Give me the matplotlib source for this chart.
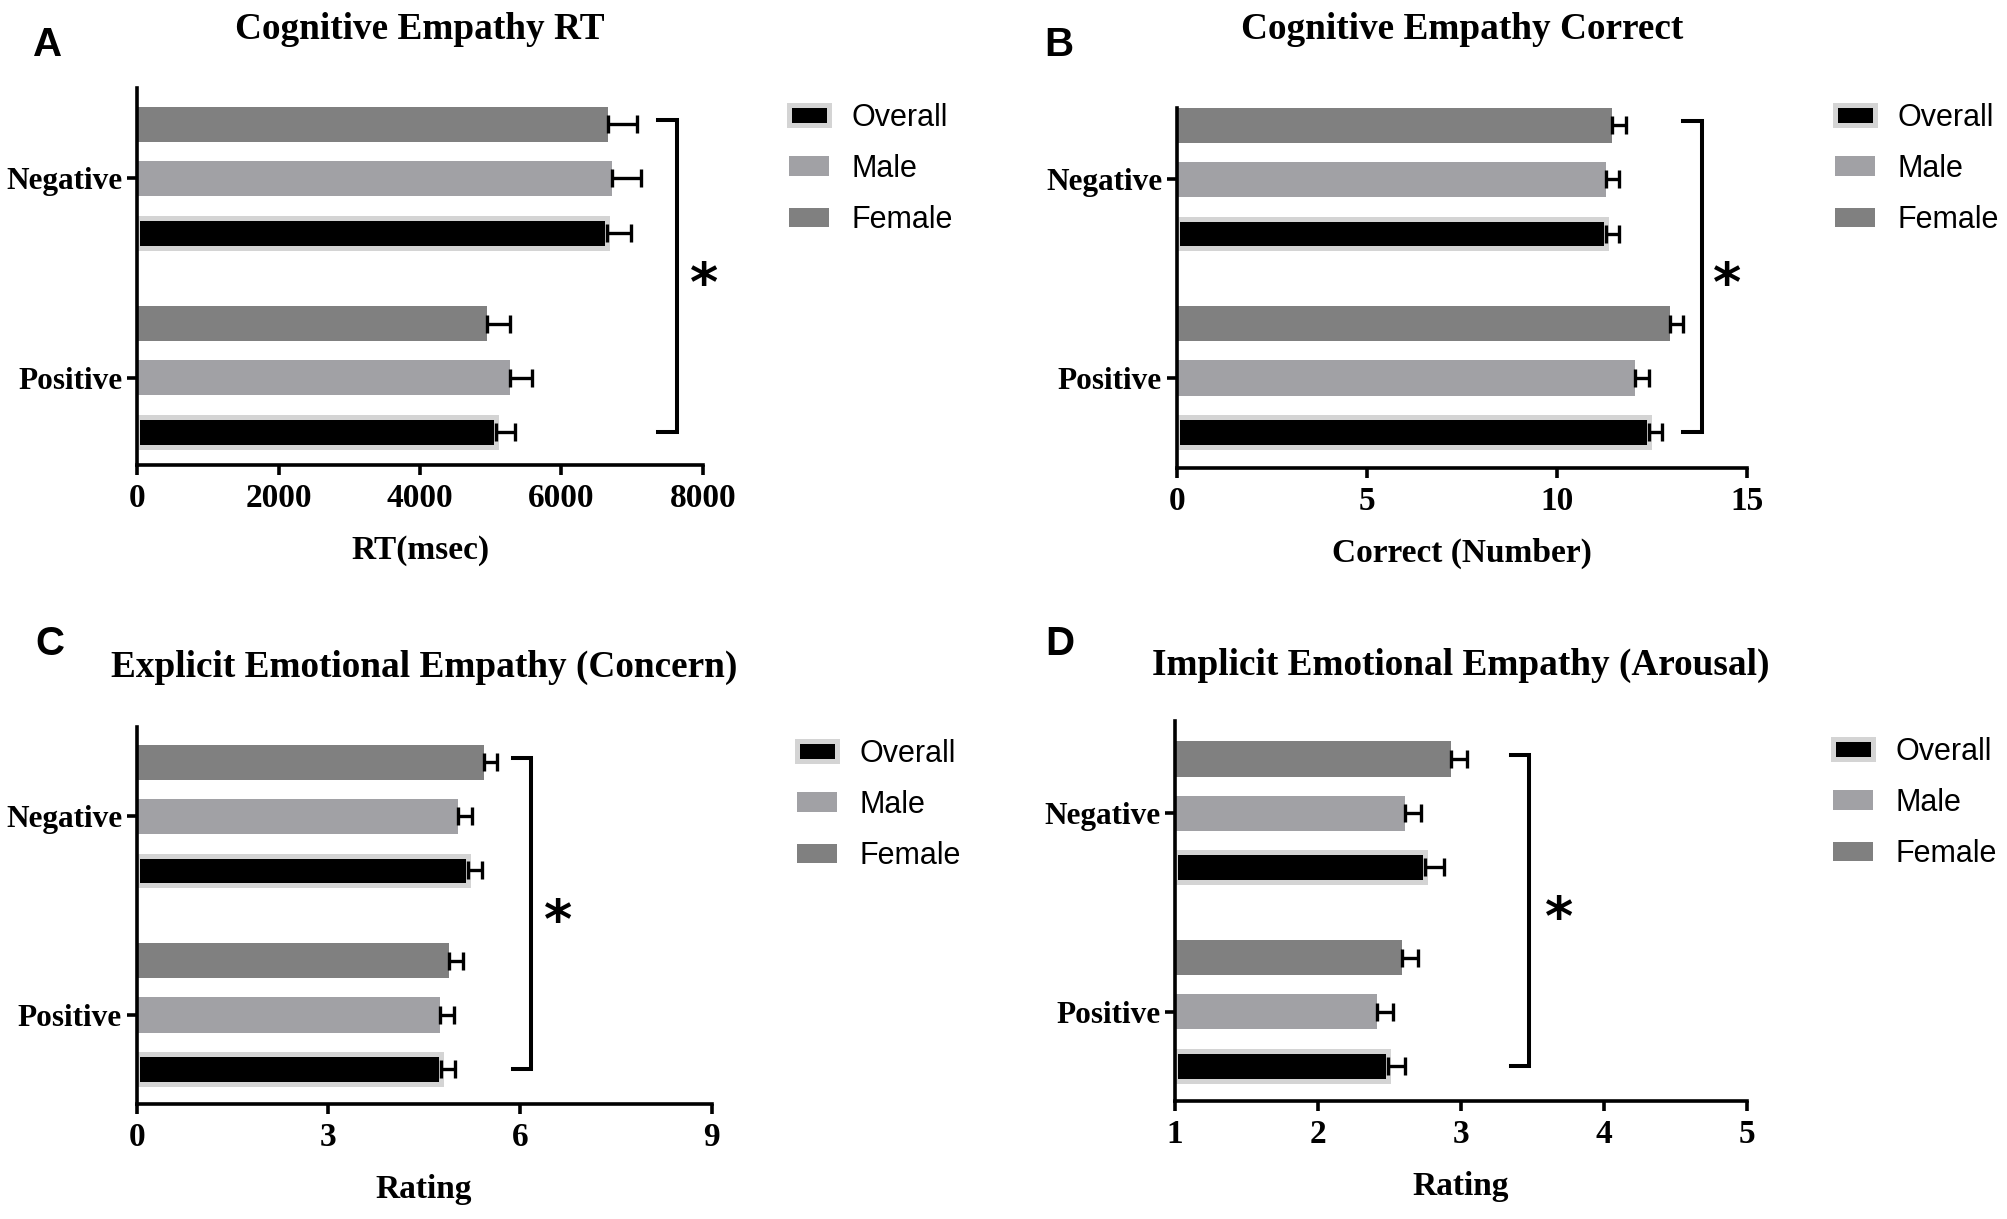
import numpy as np
import matplotlib
matplotlib.use("Agg")
import matplotlib.pyplot as plt

# ---------------- data ----------------
conditions = ["Negative", "Positive"]
groups = ["Overall", "Male", "Female"]

rt_overall = [6651, 5080]
rt_male = [6715, 5279]
rt_female = [6667, 4954]
rt_overall_se = [333, 262]
rt_male_se = [410, 307]
rt_female_se = [410, 316]
rt_ticks = [0, 2000, 4000, 6000, 8000]

correct_overall = [11.29, 12.42]
correct_male = [11.28, 12.06]
correct_female = [11.45, 12.96]
correct_overall_se = [0.35, 0.34]
correct_male_se = [0.36, 0.35]
correct_female_se = [0.35, 0.34]
correct_ticks = [0, 5, 10, 15]

concern_overall = [5.19, 4.76]
concern_male = [5.03, 4.75]
concern_female = [5.43, 4.89]
concern_overall_se = [0.21, 0.22]
concern_male_se = [0.22, 0.22]
concern_female_se = [0.21, 0.22]
concern_ticks = [0, 3, 6, 9]

arousal_overall = [2.75, 2.49]
arousal_male = [2.61, 2.415]
arousal_female = [2.93, 2.585]
arousal_overall_se = [0.13, 0.12]
arousal_male_se = [0.11, 0.11]
arousal_female_se = [0.11, 0.115]
arousal_ticks = [1, 2, 3, 4, 5]

titles = ["Cognitive Empathy RT", "Cognitive Empathy Correct",
          "Explicit Emotional Empathy (Concern)", "Implicit Emotional Empathy (Arousal)"]
xlabels = ["RT(msec)", "Correct (Number)", "Rating", "Rating"]
letters = ["A", "B", "C", "D"]
significance = "*"

# ---------------- style / layout ----------------
W, H = 2007, 1219
plt.rcParams["font.family"] = ["Liberation Serif", "DejaVu Serif"]
plt.rcParams["font.weight"] = "bold"

c_female = "#808080"
c_male = "#a1a1a5"
c_overall = "#000000"
c_overall_edge = "#d4d4d4"

fig = plt.figure(figsize=(W / 100, H / 100), dpi=100)

def frac_rect(l, t, r, b):
    return [l / W, 1 - b / H, (r - l) / W, (b - t) / H]

panels = [
    dict(rect=(137.3, 87.5, 702.7, 465.0), ylim=(-1.605, 5.345),
         ov=rt_overall, ma=rt_male, fe=rt_female,
         ov_se=rt_overall_se, ma_se=rt_male_se, fe_se=rt_female_se,
         ticks=rt_ticks, br=(7374, 7635), star=8020,
         title_y=39, letter=(33, 56), leg=(789, 115)),
    dict(rect=(1176.6, 108.0, 1747.3, 468.3), ylim=(-1.67, 4.99),
         ov=correct_overall, ma=correct_male, fe=correct_female,
         ov_se=correct_overall_se, ma_se=correct_male_se, fe_se=correct_female_se,
         ticks=correct_ticks, br=(13.30, 13.80), star=14.46,
         title_y=39, letter=(1044, 56), leg=(1835, 115)),
    dict(rect=(136.6, 726.5, 711.7, 1104.3), ylim=(-1.65, 5.33),
         ov=concern_overall, ma=concern_male, fe=concern_female,
         ov_se=concern_overall_se, ma_se=concern_male_se, fe_se=concern_female_se,
         ticks=concern_ticks, br=(5.89, 6.17), star=6.60,
         title_y=677, letter=(35, 655), leg=(797, 751)),
    dict(rect=(1175.0, 721.2, 1747.0, 1101.0), ylim=(-1.65, 5.37),
         ov=arousal_overall, ma=arousal_male, fe=arousal_female,
         ov_se=arousal_overall_se, ma_se=arousal_male_se, fe_se=arousal_female_se,
         ticks=arousal_ticks, br=(3.35, 3.476), star=3.685,
         title_y=675, letter=(1045, 655), leg=(1833, 749)),
]

centers = np.array([3.67, 0.0])  # Negative, Positive group centres
bar_h = 0.65
spine_lw = 2.6

for k, p in enumerate(panels):
    ax = fig.add_axes(frac_rect(*p["rect"]))
    base = p["ticks"][0]
    ov = np.array(p["ov"]); ma = np.array(p["ma"]); fe = np.array(p["fe"])
    y_fe = centers + 1.0
    y_ma = centers
    y_ov = centers - 1.0

    b_fe = ax.barh(y_fe, fe - base, left=base, height=bar_h, color=c_female,
                   linewidth=0, zorder=2)
    b_ma = ax.barh(y_ma, ma - base, left=base, height=bar_h, color=c_male,
                   linewidth=0, zorder=2)
    b_ov = ax.barh(y_ov, ov - base, left=base, height=0.55, color=c_overall,
                   edgecolor=c_overall_edge, linewidth=3.6, zorder=2)

    for vals, ys, se in [(fe, y_fe, p["fe_se"]), (ma, y_ma, p["ma_se"]), (ov, y_ov, p["ov_se"])]:
        ax.errorbar(vals, ys, xerr=[np.zeros(len(se)), np.array(se)], fmt="none",
                    ecolor="black", elinewidth=2.4, capsize=6.2, capthick=2.4, zorder=3)

    # significance bracket
    x0, x1 = p["br"]
    ytop, ybot = centers[0] + 1.08, centers[1] - 1.0
    ax.plot([x0, x1, x1, x0], [ytop, ytop, ybot, ybot], color="black", lw=2.9,
            solid_joinstyle="miter", clip_on=False, zorder=3)
    ax.text(p["star"], (ytop + ybot) / 2 - 0.46, significance, ha="center", va="baseline",
            fontsize=39, fontweight="bold", family="DejaVu Sans")

    ax.set_xlim(p["ticks"][0], p["ticks"][-1])
    ax.set_ylim(*p["ylim"])
    ax.set_xticks(p["ticks"])
    ax.set_xticklabels([str(t) for t in p["ticks"]], fontsize=24, fontweight="bold")
    ax.set_yticks(centers)
    ax.set_yticklabels(conditions, fontsize=22.5, fontweight="bold")
    ax.tick_params(axis="x", length=7, width=spine_lw, pad=6)
    ax.tick_params(axis="y", length=7, width=spine_lw, pad=3.5)
    for s in ["top", "right"]:
        ax.spines[s].set_visible(False)
    for s in ["left", "bottom"]:
        ax.spines[s].set_linewidth(spine_lw)
    ax.set_xlabel(xlabels[k], fontsize=24, fontweight="bold", labelpad=15)

    cx = (p["rect"][0] + p["rect"][2]) / 2
    fig.text(cx / W, 1 - p["title_y"] / H, titles[k], ha="center", va="baseline",
             fontsize=26.8, fontweight="bold")
    fig.text(p["letter"][0] / W, 1 - p["letter"][1] / H, letters[k], ha="left",
             va="baseline", fontsize=29, fontweight="bold",
             family=["Liberation Sans", "DejaVu Sans"])

    lx, ly = p["leg"]
    ax.legend([b_ov, b_ma, b_fe], groups, loc="upper left",
              bbox_to_anchor=(lx / W, 1 - (ly - 12) / H), bbox_transform=fig.transFigure,
              frameon=False, borderpad=0, borderaxespad=0,
              prop=dict(family=["Liberation Sans", "DejaVu Sans"], size=22, weight="normal"),
              handlelength=1.31, handleheight=0.62, handletextpad=0.72, labelspacing=0.69)

fig.savefig("out.png", dpi=100)
